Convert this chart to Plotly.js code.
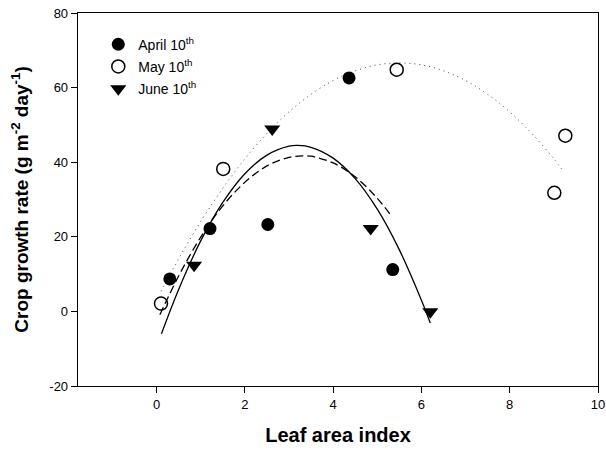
<!DOCTYPE html>
<html>
<head>
<meta charset="utf-8">
<script src="https://cdn.plot.ly/plotly-3.0.1.min.js"></script>
<style>html,body{margin:0;padding:0;background:#fff;}#chart{width:606px;height:452px;}</style>
</head>
<body>
<div id="chart"></div>
<script>
// Observed data
const aprilX = [0.30, 1.21, 2.52, 4.36, 5.35];
const aprilY = [8.7, 22.2, 23.3, 62.6, 11.2];
const mayX = [0.10, 1.51, 5.44, 9.01, 9.26];
const mayY = [2.1, 38.2, 64.8, 31.8, 47.1];
const juneX = [0.85, 2.62, 4.85, 6.20];
const juneY = [12.4, 48.9, 22.2, -0.1];

// Fitted curves
const fitAprilX = [0.075, 0.5, 1.0, 1.5, 2.0, 2.5, 3.0, 3.32, 3.5, 4.0, 4.5, 5.0, 5.31];
const fitAprilY = [-0.9, 9.5, 19.9, 28.3, 34.6, 39.0, 41.3, 41.7, 41.6, 39.8, 36.1, 30.3, 25.7];
const fitMayX = [0.1, 0.5, 1.0, 1.5, 2.0, 2.5, 3.0, 3.5, 4.0, 4.5, 5.0, 5.5, 6.0, 6.5, 7.0, 7.5, 8.0, 8.5, 9.0, 9.22];
const fitMayY = [5.4, 14.1, 24.1, 33.0, 40.9, 47.7, 53.5, 58.2, 61.9, 64.5, 66.1, 66.6, 66.1, 64.5, 61.9, 58.2, 53.5, 47.7, 40.9, 37.5];
const fitJuneX = [0.11, 0.5, 1.0, 1.5, 2.0, 2.5, 3.0, 3.2, 3.5, 4.0, 4.5, 5.0, 5.5, 6.0, 6.2];
const fitJuneY = [-6.0, 5.9, 18.9, 29.2, 36.9, 41.9, 44.3, 44.5, 44.0, 41.1, 35.6, 27.4, 16.5, 3.0, -3.1];

const seriesNames = ['April 10<sup>th</sup>', 'May 10<sup>th</sup>', 'June 10<sup>th</sup>'];
const xTicks = [0, 2, 4, 6, 8, 10];
const yTicks = [-20, 0, 20, 40, 60, 80];

const FONT = '"Liberation Sans", Arial, sans-serif';

const traces = [
  {x: fitMayX, y: fitMayY, mode: 'lines', line: {color: '#444', width: 1, dash: '1px,4px', shape: 'spline'}, showlegend: false, hoverinfo: 'skip'},
  {x: fitAprilX, y: fitAprilY, mode: 'lines', line: {color: '#000', width: 1.3, dash: '8px,4px', shape: 'spline'}, showlegend: false, hoverinfo: 'skip'},
  {x: fitJuneX, y: fitJuneY, mode: 'lines', line: {color: '#000', width: 1.3, shape: 'spline'}, showlegend: false, hoverinfo: 'skip'},
  {x: aprilX, y: aprilY, mode: 'markers', name: seriesNames[0], legendgroup: 'a', marker: {symbol: 'circle', size: 13, color: '#000'}},
  {x: mayX, y: mayY, mode: 'markers', name: seriesNames[1], legendgroup: 'b', marker: {symbol: 'circle-open', size: 13, color: '#000', line: {width: 1.5, color: '#000'}}},
  {x: juneX, y: juneY, mode: 'markers', name: seriesNames[2], legendgroup: 'c', marker: {symbol: 'triangle-down', size: 14, color: '#000'}}
];

const layout = {
  width: 606, height: 452,
  margin: {l: 78, r: 8, t: 13, b: 66},
  paper_bgcolor: '#fff', plot_bgcolor: '#fff',
  font: {family: FONT, color: '#000', size: 13},
  showlegend: true,
  legend: {x: 0.039, y: 0.958, xanchor: 'left', yanchor: 'top', bgcolor: 'rgba(0,0,0,0)', borderwidth: 0,
           traceorder: 'grouped', tracegroupgap: 1,
           font: {size: 14, family: FONT}},
  xaxis: {
    range: [-1.78, 10], tickvals: xTicks, ticktext: xTicks.map(String),
    showgrid: false, zeroline: false, showline: true, linecolor: '#000', linewidth: 1.3, mirror: true,
    ticks: 'outside', ticklen: 6, tickwidth: 1, tickcolor: '#000',
    tickfont: {size: 13},
    title: {text: 'Leaf area index', font: {size: 20, family: FONT, weight: 'bold'}, standoff: 17}
  },
  yaxis: {
    range: [-20, 80], tickvals: yTicks, ticktext: yTicks.map(String),
    showgrid: false, zeroline: false, showline: true, linecolor: '#000', linewidth: 1.3, mirror: true,
    ticks: 'outside', ticklen: 6, tickwidth: 1, tickcolor: '#000',
    tickfont: {size: 13},
    title: {text: 'Crop growth rate (g m<sup>-2</sup> day<sup>-1</sup>)', font: {size: 19, family: FONT, weight: 'bold'}, standoff: 15}
  }
};

Plotly.newPlot('chart', traces, layout, {displayModeBar: false, staticPlot: true});
</script>
</body>
</html>
